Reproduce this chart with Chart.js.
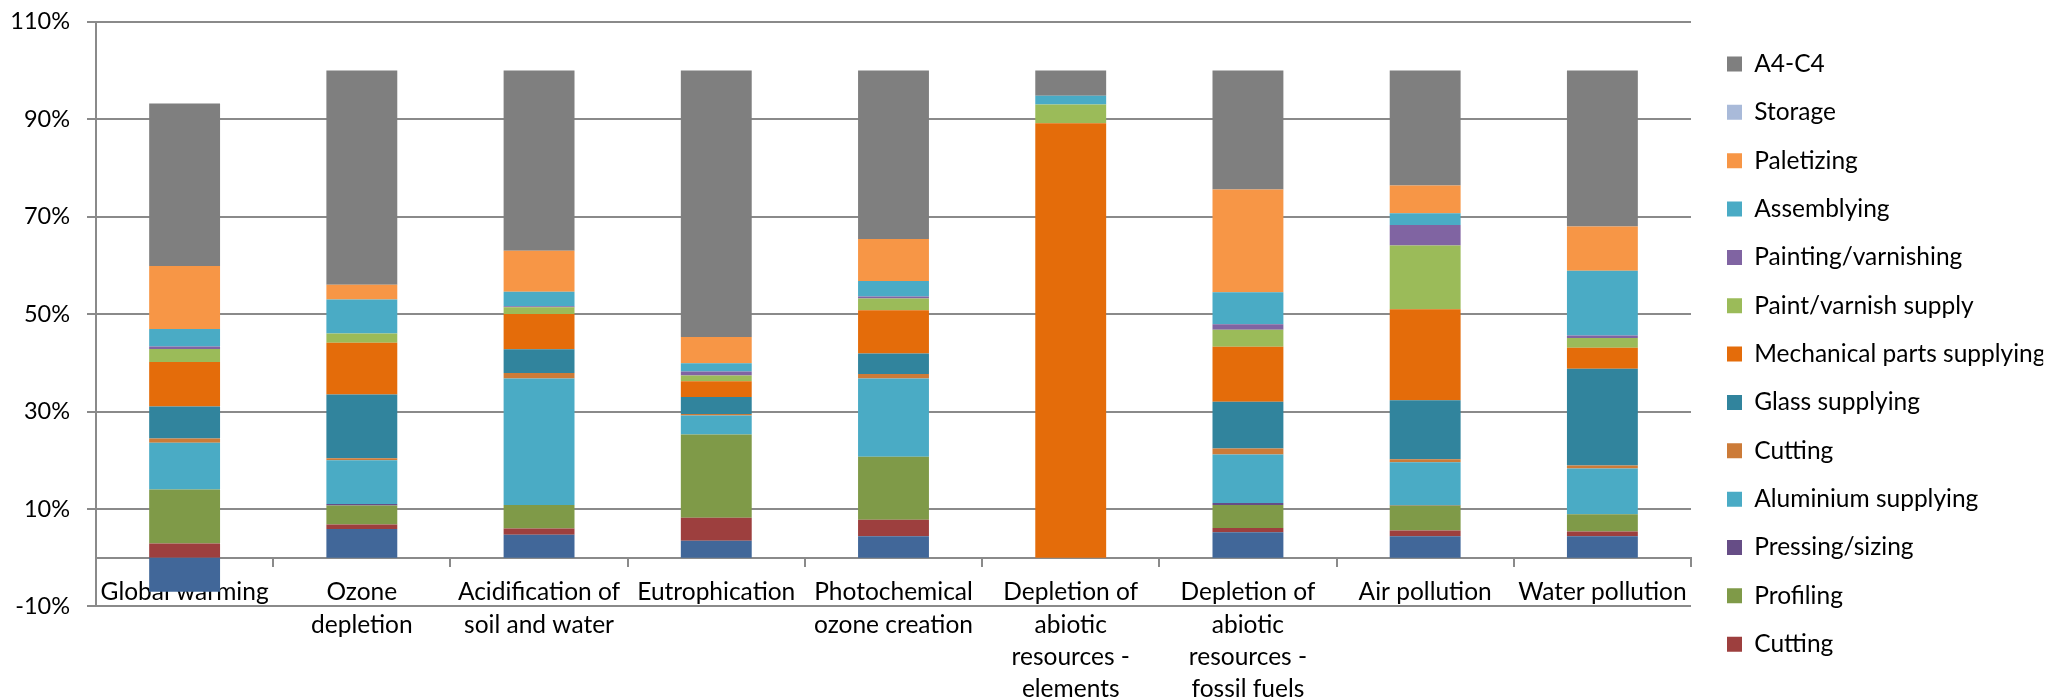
<!DOCTYPE html>
<html>
<head>
<meta charset="utf-8">
<title>Impact contributions by life-cycle stage</title>
<script src="https://cdn.jsdelivr.net/npm/chart.js@4.4.1/dist/chart.umd.min.js"></script>
<style>
  html, body { margin: 0; padding: 0; background: #ffffff; }
  #frame { width: 2046px; height: 699px; overflow: hidden; position: relative; }
  canvas { display: block; }
</style>
</head>
<body>
<div id="frame"><canvas id="chart" width="2046" height="699"></canvas></div>
<script>
// Impact categories (x axis), split into display lines
const categories = [
  'Global warming',
  ['Ozone', 'depletion'],
  ['Acidification of', 'soil and water'],
  'Eutrophication',
  ['Photochemical', 'ozone creation'],
  ['Depletion of', 'abiotic', 'resources -', 'elements'],
  ['Depletion of', 'abiotic', 'resources -', 'fossil fuels'],
  'Air pollution',
  'Water pollution'
];

// Share of each stage in every impact category, in percent (stacked bottom to top)
const extrusion          = [-7.0, 5.9, 4.7, 3.5, 4.4, 0.0, 5.2, 4.4, 4.4];
const cuttingProfiles    = [2.9, 0.9, 1.3, 4.7, 3.4, 0.0, 0.9, 1.2, 1.0];
const profiling          = [11.1, 3.9, 4.8, 17.1, 12.9, 0.0, 4.7, 5.1, 3.5];
const pressingSizing     = [0.0, 0.3, 0.0, 0.0, 0.0, 0.0, 0.4, 0.1, 0.0];
const aluminiumSupplying = [9.6, 9.0, 26.0, 3.9, 16.1, 0.0, 10.0, 8.8, 9.4];
const cuttingGlass       = [0.85, 0.4, 1.1, 0.3, 0.9, 0.0, 1.2, 0.6, 0.6];
const glassSupplying     = [6.6, 13.1, 4.9, 3.5, 4.2, 0.0, 9.6, 12.1, 19.9];
const mechanicalParts    = [9.1, 10.6, 7.2, 3.2, 8.9, 89.2, 11.3, 18.7, 4.3];
const paintSupply        = [2.7, 1.9, 1.4, 1.2, 2.4, 3.8, 3.5, 13.1, 2.0];
const paintingVarnishing = [0.5, 0.0, 0.2, 0.8, 0.4, 0.0, 1.1, 4.2, 0.5];
const assemblying        = [3.6, 7.0, 3.0, 1.7, 3.2, 1.8, 6.6, 2.4, 13.3];
const paletizing         = [12.9, 3.0, 8.4, 5.4, 8.6, 0.0, 21.1, 5.7, 9.1];
const storage            = [0, 0, 0, 0, 0, 0, 0, 0, 0];
const a4c4               = [33.4, 44.0, 37.0, 54.7, 34.6, 5.2, 24.4, 23.6, 32.0];

// Y axis range and tick spacing (percent)
const yMin = -10;
const yMax = 110;
const yStep = 20;

const seriesNames = [
  'Extrusion', 'Cutting', 'Profiling', 'Pressing/sizing', 'Aluminium supplying',
  'Cutting', 'Glass supplying', 'Mechanical parts supplying', 'Paint/varnish supply',
  'Painting/varnishing', 'Assemblying', 'Paletizing', 'Storage', 'A4-C4'
];
const seriesValues = [
  extrusion, cuttingProfiles, profiling, pressingSizing, aluminiumSupplying,
  cuttingGlass, glassSupplying, mechanicalParts, paintSupply,
  paintingVarnishing, assemblying, paletizing, storage, a4c4
];
const seriesColors = [
  '#416799', '#9d3f3e', '#7f9a48', '#664d86', '#4aabc5',
  '#cc7b38', '#31849d', '#e46c0a', '#9bbb59',
  '#8064a2', '#4aabc5', '#f79646', '#a9bad9', '#7f7f7f'
];

const FONT = 'Lato, "Open Sans", sans-serif';
const GRID = '#8a8a8a';

const datasets = seriesNames.map((name, i) => ({
  label: name,
  data: seriesValues[i],
  backgroundColor: seriesColors[i],
  borderWidth: 0,
  barPercentage: 0.4,
  categoryPercentage: 1.0
}));

new Chart(document.getElementById('chart'), {
  type: 'bar',
  data: { labels: categories, datasets },
  options: {
    responsive: false,
    devicePixelRatio: 1,
    animation: false,
    layout: { padding: { top: 21.8, left: 0, right: 2.85, bottom: 0 } },
    scales: {
      x: {
        stacked: true,
        position: { y: 0 },
        offset: true,
        z: 1,
        grid: {
          display: true,
          offset: true,
          drawOnChartArea: false,
          drawTicks: true,
          tickLength: 8,
          color: GRID,
          lineWidth: 2
        },
        border: { display: true, color: GRID, width: 2 },
        ticks: {
          autoSkip: false,
          maxRotation: 0,
          minRotation: 0,
          padding: 10.6,
          color: '#000000',
          font: { family: FONT, size: 24.5, lineHeight: 1.318 }
        }
      },
      y: {
        stacked: true,
        min: yMin,
        max: yMax,
        grid: {
          color: GRID,
          lineWidth: 2,
          drawTicks: true,
          tickLength: 9
        },
        border: { display: true, color: GRID, width: 2 },
        ticks: {
          stepSize: yStep,
          padding: 17,
          color: '#000000',
          font: { family: FONT, size: 23.5 },
          callback: v => v + '%'
        },
        afterFit: s => {
          s.width = 96;
          s.paddingTop = 0;
          s.paddingBottom = 0;
        }
      },
      gapRight: {
        type: 'linear',
        axis: 'y',
        position: 'right',
        grid: { display: false },
        border: { display: false },
        ticks: { display: false },
        afterFit: s => { s.width = 12.15; }
      },
      gapBottom: {
        type: 'linear',
        axis: 'x',
        position: 'bottom',
        grid: { display: false },
        border: { display: false },
        ticks: { display: false },
        afterFit: s => { s.height = 92.6; }
      }
    },
    plugins: {
      tooltip: { enabled: false },
      legend: {
        position: 'right',
        align: 'start',
        reverse: true,
        maxWidth: 340,
        title: { display: true, text: '', font: { size: 1, lineHeight: 1 }, padding: { top: 5.1, bottom: 0 } },
        labels: {
          boxWidth: 15,
          boxHeight: 15,
          padding: 23.85,
          color: '#000000',
          font: { family: FONT, size: 24.5 },
          filter: item => item.datasetIndex !== 0
        }
      }
    }
  }
});
</script>
</body>
</html>
